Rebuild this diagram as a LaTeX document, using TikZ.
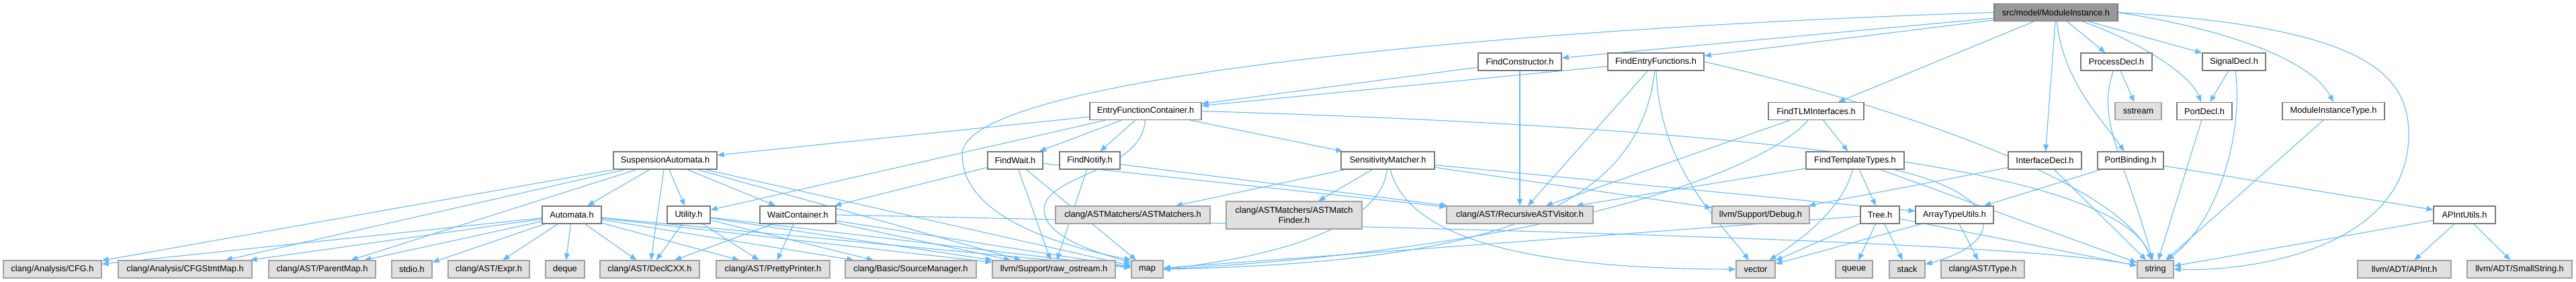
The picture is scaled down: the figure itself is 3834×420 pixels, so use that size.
\documentclass[tikz,border=0pt]{standalone}
\usepackage{fontspec}
\setmainfont{Liberation Sans}
\usetikzlibrary{arrows.meta}
\definecolor{edgec}{HTML}{63B8FF}
\definecolor{boxb}{HTML}{7A7A7A}
\definecolor{extf}{HTML}{E0E0E0}
\definecolor{extb}{HTML}{A0A0A0}
\definecolor{rootf}{HTML}{999999}
\pgfdeclarelayer{bg}
\pgfsetlayers{bg,main}
\begin{document}
\begin{tikzpicture}[x=1pt,y=-1pt,
  box/.style={draw=boxb, fill=white, line width=1.3pt, minimum height=26pt, inner sep=0pt, font=\fontsize{12.8}{14.5}\selectfont, text=black, align=center},
  ext/.style={box, draw=extb, fill=extf},
  root/.style={box, fill=rootf, draw=boxb},
  e/.style={draw=edgec, line width=1.1pt, -{Triangle[length=10pt,width=8pt]}}]
\useasboundingbox (0,0) rectangle (3834,420);
% row 0
\node[root, minimum width=184pt] (MI) at (3060,18.5) {src/model/ModuleInstance.h};
% row 1
\node[box, minimum width=124pt] (FC) at (2262,92) {FindConstructor.h};
\node[box, minimum width=143pt] (FEF) at (2464.5,92) {FindEntryFunctions.h};
\node[box, minimum width=106pt] (PD) at (3150,92) {ProcessDecl.h};
\node[box, minimum width=94pt] (SD) at (3325,92) {SignalDecl.h};
% row 2
\node[box, minimum width=166pt] (EFC) at (1705,165.5) {EntryFunctionContainer.h};
\node[box, minimum width=142pt] (FTLM) at (2703,165.5) {FindTLMInterfaces.h};
\node[ext, minimum width=69pt] (SS) at (3182.5,165.5) {sstream};
\node[box, minimum width=82pt] (PDL) at (3281,165.5) {PortDecl.h};
\node[box, minimum width=152pt] (MIT) at (3473,165.5) {ModuleInstanceType.h};
% row 3
\node[box, minimum width=154pt] (SA) at (990,239) {SuspensionAutomata.h};
\node[box, minimum width=82pt] (FW) at (1511,239) {FindWait.h};
\node[box, minimum width=90pt] (FN) at (1622,239) {FindNotify.h};
\node[box, minimum width=139pt] (SM) at (2065.5,239) {SensitivityMatcher.h};
\node[box, minimum width=146pt] (FTT) at (2761,239) {FindTemplateTypes.h};
\node[box, minimum width=109pt] (ID) at (3043.5,239) {InterfaceDecl.h};
\node[box, minimum width=98pt] (PB) at (3171,239) {PortBinding.h};
% row 4
\node[box, minimum width=88pt] (AU) at (851,320) {Automata.h};
\node[box, minimum width=64pt] (UT) at (1025,320) {Utility.h};
\node[box, minimum width=113pt] (WC) at (1187.5,320) {WaitContainer.h};
\node[ext, minimum width=230pt] (ASTM) at (1686,320) {clang/ASTMatchers/ASTMatchers.h};
\node[ext, minimum width=202pt, minimum height=41pt] (AMF) at (1926,320.5) {clang/ASTMatchers/ASTMatch\\Finder.h};
\node[ext, minimum width=218pt] (RAV) at (2262,320) {clang/AST/RecursiveASTVisitor.h};
\node[ext, minimum width=145pt] (DBG) at (2620.5,320) {llvm/Support/Debug.h};
\node[box, minimum width=58pt] (TR) at (2798,320) {Tree.h};
\node[box, minimum width=116pt] (ATU) at (2909,320) {ArrayTypeUtils.h};
\node[box, minimum width=92pt] (APU) at (3668,320) {APIntUtils.h};
% row 5
\node[ext, minimum width=146pt] (CFG) at (78,401) {clang/Analysis/CFG.h};
\node[ext, minimum width=199pt] (CSM) at (275.5,401) {clang/Analysis/CFGStmtMap.h};
\node[ext, minimum width=159pt] (PM) at (479.5,401) {clang/AST/ParentMap.h};
\node[ext, minimum width=60pt] (STD) at (613,401) {stdio.h};
\node[ext, minimum width=121pt] (EXP) at (727.5,401) {clang/AST/Expr.h};
\node[ext, minimum width=58pt] (DQ) at (841,401) {deque};
\node[ext, minimum width=148pt] (DCX) at (967,401) {clang/AST/DeclCXX.h};
\node[ext, minimum width=169pt] (PP) at (1150.5,401) {clang/AST/PrettyPrinter.h};
\node[ext, minimum width=195pt] (SMG) at (1355.5,401) {clang/Basic/SourceManager.h};
\node[ext, minimum width=183pt] (RO) at (1568.5,401) {llvm/Support/raw\_ostream.h};
\node[ext, minimum width=47pt] (MAP) at (1707.5,401) {map};
\node[ext, minimum width=58pt] (VEC) at (2613,401) {vector};
\node[ext, minimum width=55pt] (Q) at (2759.5,401) {queue};
\node[ext, minimum width=53pt] (ST) at (2838.5,401) {stack};
\node[ext, minimum width=124pt] (TY) at (2951,401) {clang/AST/Type.h};
\node[ext, minimum width=54pt] (STR) at (3208,401) {string};
\node[ext, minimum width=139pt] (API) at (3578.5,401) {llvm/ADT/APInt.h};
\node[ext, minimum width=156pt] (SST) at (3750,401) {llvm/ADT/SmallString.h};

\begin{pgfonlayer}{bg}
% ModuleInstance.h
\draw[e] (MI) -- (FC);
\draw[e] (MI) -- (FEF);
\draw[e] (MI) -- (FTLM);
\draw[e] (MI) -- (ID);
\draw[e] (MI) .. controls (3070,120) and (3130,180) .. (PB);
\draw[e] (MI) -- (PD);
\draw[e] (MI) .. controls (3180,60) and (3260,110) .. (PDL);
\draw[e] (MI) -- (SD);
\draw[e] (MI.east) .. controls (3320,45) and (3440,90) .. (MIT.north);
\draw[e] (MI.east) .. controls (3520,40) and (3585,110) .. (3585,200) .. controls (3585,370) and (3350,405) .. (STR.east);
\draw[e] (MI.west) .. controls (2300,40) and (1432,110) .. (1432,230) .. controls (1432,330) and (1600,370) .. (MAP.north west);
% FindConstructor.h
\draw[e] (FC) -- (EFC);
\draw[e] (FC) -- (RAV);
% FindEntryFunctions.h
\draw[e] (FEF) -- (EFC);
\draw[e] (FEF) -- (RAV);
\draw[e] (FEF) .. controls (2440,300) and (2250,390) .. (MAP.east);
\draw[e] (FEF) .. controls (2470,250) and (2560,330) .. (VEC);
\draw[e] (FEF.east) .. controls (2750,140) and (3150,260) .. (STR);
% EntryFunctionContainer.h
\draw[e] (EFC) -- (SA);
\draw[e] (EFC) -- (UT);
\draw[e] (EFC) -- (FW);
\draw[e] (EFC) -- (FN);
\draw[e] (EFC) -- (SM);
\draw[e] (EFC) .. controls (1700,260) and (1540,260) .. (1555,320) .. controls (1565,360) and (1650,380) .. (MAP);
\draw[e] (EFC.east) .. controls (2600,190) and (3150,250) .. (STR);
% SuspensionAutomata.h
\draw[e] (SA) -- (CFG);
\draw[e] (SA) -- (CSM);
\draw[e] (SA) -- (PM);
\draw[e] (SA) -- (AU);
\draw[e] (SA) -- (UT);
\draw[e] (SA) -- (WC);
\draw[e] (SA) -- (DCX);
\draw[e] (SA) -- (RO);
\draw[e] (SA) -- (MAP);
% Automata.h
\draw[e] (AU) -- (CFG);
\draw[e] (AU) -- (CSM);
\draw[e] (AU) -- (PM);
\draw[e] (AU) -- (STD);
\draw[e] (AU) -- (EXP);
\draw[e] (AU) -- (DQ);
\draw[e] (AU) -- (DCX);
\draw[e] (AU) -- (PP);
\draw[e] (AU) -- (SMG);
\draw[e] (AU) -- (RO);
\draw[e] (AU) -- (MAP);
% Utility.h
\draw[e] (UT) -- (DCX);
\draw[e] (UT) -- (PP);
\draw[e] (UT) -- (SMG);
\draw[e] (UT) -- (RO);
\draw[e] (UT) -- (MAP);
% WaitContainer.h
\draw[e] (WC) -- (DCX);
\draw[e] (WC) -- (PP);
\draw[e] (WC) -- (RO);
\draw[e] (WC) -- (MAP);
\draw[e] (WC.east) .. controls (2200,340) and (3000,360) .. (STR);
% FindWait.h
\draw[e] (FW) -- (WC);
\draw[e] (FW) -- (RAV);
\draw[e] (FW) -- (RO);
\draw[e] (FW) -- (MAP);
% FindNotify.h
\draw[e] (FN) -- (RAV);
\draw[e] (FN) -- (RO);
% SensitivityMatcher.h
\draw[e] (SM) -- (ASTM);
\draw[e] (SM) -- (AMF);
\draw[e] (SM) -- (DBG);
\draw[e] (SM) -- (ATU);
\draw[e] (SM) .. controls (2060,300) and (2000,370) .. (MAP.east);
\draw[e] (SM) .. controls (2090,330) and (2200,400) .. (VEC.west);
% FindTLMInterfaces.h
\draw[e] (FTLM) -- (FTT);
\draw[e] (FTLM) -- (RAV);
\draw[e] (FTLM) .. controls (2620,260) and (2300,370) .. (MAP.east);
% FindTemplateTypes.h
\draw[e] (FTT) -- (RAV);
\draw[e] (FTT) -- (TR);
\draw[e] (FTT) .. controls (2740,320) and (2660,370) .. (VEC);
\draw[e] (FTT) .. controls (2980,290) and (2990,360) .. (ST);
\draw[e] (FTT) -- (STR);
% Tree.h
\draw[e] (TR) -- (MAP);
\draw[e] (TR) -- (VEC);
\draw[e] (TR) -- (Q);
\draw[e] (TR) -- (ST);
\draw[e] (TR) -- (STR);
% ArrayTypeUtils.h
\draw[e] (ATU) -- (VEC);
\draw[e] (ATU) -- (TY);
% InterfaceDecl.h
\draw[e] (ID) -- (DBG);
\draw[e] (ID) -- (STR);
% PortBinding.h
\draw[e] (PB) -- (ATU);
\draw[e] (PB) -- (APU);
% ProcessDecl.h
\draw[e] (PD) -- (SS);
\draw[e] (PD) .. controls (3120,180) and (3160,230) .. (STR);
% SignalDecl.h
\draw[e] (SD) -- (PDL);
\draw[e] (SD) .. controls (3340,200) and (3300,330) .. (STR);
% PortDecl.h
\draw[e] (PDL) -- (STR);
% ModuleInstanceType.h
\draw[e] (MIT) -- (STR);
% APIntUtils.h
\draw[e] (APU) -- (STR);
\draw[e] (APU) -- (API);
\draw[e] (APU) -- (SST);
\end{pgfonlayer}
\end{tikzpicture}
\end{document}
